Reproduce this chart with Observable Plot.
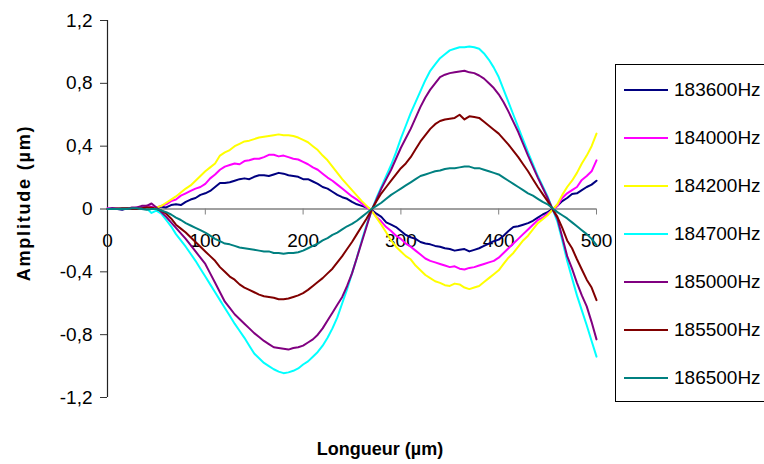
<!DOCTYPE html>
<html>
<head>
<meta charset="utf-8">
<script src="https://cdn.jsdelivr.net/npm/d3@7"></script>
<script src="https://cdn.jsdelivr.net/npm/@observablehq/plot@0.6"></script>
<style>
  html, body { margin: 0; padding: 0; background: #fff; overflow: hidden; }
  #wrap { position: relative; width: 764px; height: 464px; }
  #legend { position: absolute; left: 615px; top: 64px; width: 170px; height: 336px;
    border: 1px solid #000; background: #fff; font-family: "Liberation Sans", Arial, sans-serif; font-size: 19px; }
  .item { position: absolute; left: 8px; height: 24px; display: flex; align-items: center; white-space: nowrap; }
  .sw { width: 44px; height: 2px; margin-right: 6px; }
</style>
</head>
<body>
<div id="wrap"></div>
<script>
// sampling positions along the length (µm), every 5 µm
const positions = d3.range(0, 501, 5);

const seriesNames = ["183600Hz","184000Hz","184200Hz","184700Hz","185000Hz","185500Hz","186500Hz"];
const seriesColors = ["#000080","#FF00FF","#FFFF00","#00FFFF","#800080","#800000","#008080"];

const s183600 = [0.00,0.005,0.00,-0.005,0.005,0.00,0.00,0.01,0.01,0.00,
  0.005,0.015,0.01,0.025,0.03,0.025,0.045,0.06,0.07,0.09,
  0.10,0.115,0.14,0.165,0.165,0.17,0.18,0.19,0.195,0.19,
  0.205,0.215,0.215,0.21,0.22,0.23,0.225,0.215,0.21,0.205,
  0.19,0.19,0.175,0.16,0.14,0.13,0.11,0.09,0.075,0.065,
  0.045,0.03,0.02,0.01,-0.005,-0.03,-0.05,-0.085,-0.10,-0.115,
  -0.14,-0.165,-0.18,-0.19,-0.21,-0.22,-0.225,-0.235,-0.24,-0.25,
  -0.255,-0.265,-0.26,-0.255,-0.27,-0.26,-0.25,-0.235,-0.22,-0.205,
  -0.195,-0.17,-0.14,-0.115,-0.11,-0.10,-0.09,-0.075,-0.055,-0.035,
  -0.02,0.00,0.02,0.05,0.07,0.095,0.10,0.12,0.14,0.155,0.18];
const s184000 = [0.005,0.00,0.00,0.005,0.005,0.00,0.01,0.005,0.02,0.015,
  0.01,0.02,0.03,0.05,0.06,0.085,0.10,0.115,0.13,0.14,
  0.16,0.195,0.22,0.25,0.27,0.28,0.29,0.285,0.305,0.31,
  0.32,0.32,0.33,0.345,0.345,0.335,0.34,0.33,0.32,0.315,
  0.30,0.285,0.265,0.25,0.225,0.20,0.18,0.155,0.13,0.105,
  0.08,0.06,0.035,0.01,-0.01,-0.05,-0.08,-0.115,-0.14,-0.17,
  -0.19,-0.22,-0.24,-0.265,-0.29,-0.315,-0.33,-0.34,-0.35,-0.36,
  -0.37,-0.365,-0.38,-0.385,-0.375,-0.37,-0.36,-0.35,-0.34,-0.33,
  -0.31,-0.28,-0.25,-0.22,-0.19,-0.16,-0.13,-0.10,-0.07,-0.055,
  -0.03,-0.01,0.02,0.07,0.10,0.12,0.14,0.185,0.21,0.24,0.31];
const s184200 = [0.00,0.00,0.005,0.00,0.00,0.005,0.005,0.00,0.01,0.005,
  0.01,0.02,0.04,0.06,0.08,0.105,0.13,0.15,0.18,0.21,
  0.24,0.265,0.29,0.34,0.36,0.375,0.40,0.415,0.43,0.435,
  0.445,0.455,0.46,0.465,0.47,0.475,0.47,0.47,0.465,0.455,
  0.44,0.425,0.40,0.375,0.34,0.31,0.27,0.23,0.19,0.155,
  0.12,0.085,0.05,0.02,-0.01,-0.055,-0.10,-0.15,-0.20,-0.24,
  -0.27,-0.30,-0.32,-0.36,-0.39,-0.42,-0.44,-0.46,-0.47,-0.485,
  -0.49,-0.475,-0.48,-0.50,-0.51,-0.50,-0.49,-0.465,-0.44,-0.415,
  -0.39,-0.35,-0.31,-0.28,-0.24,-0.20,-0.17,-0.13,-0.09,-0.065,
  -0.04,-0.005,0.03,0.09,0.14,0.18,0.23,0.29,0.34,0.40,0.48];
const s184700 = [0.00,0.00,0.00,0.005,0.005,0.00,0.00,0.005,0.005,-0.025,
  -0.01,-0.03,-0.07,-0.11,-0.16,-0.20,-0.24,-0.285,-0.33,-0.38,
  -0.43,-0.48,-0.53,-0.58,-0.63,-0.68,-0.73,-0.775,-0.82,-0.87,
  -0.92,-0.95,-0.98,-1.00,-1.02,-1.035,-1.045,-1.04,-1.03,-1.015,
  -0.99,-0.97,-0.94,-0.91,-0.87,-0.82,-0.76,-0.69,-0.60,-0.51,
  -0.41,-0.31,-0.20,-0.10,-0.01,0.07,0.14,0.21,0.28,0.36,
  0.45,0.53,0.61,0.68,0.75,0.82,0.88,0.92,0.96,0.985,
  1.01,1.02,1.03,1.03,1.035,1.03,1.02,0.99,0.95,0.90,
  0.84,0.76,0.68,0.60,0.52,0.44,0.36,0.285,0.21,0.145,
  0.08,0.00,-0.08,-0.20,-0.33,-0.44,-0.55,-0.645,-0.74,-0.84,-0.94];
const s185000 = [0.00,0.005,0.005,0.00,0.00,0.01,0.01,0.02,0.02,0.035,
  0.01,-0.02,-0.05,-0.085,-0.12,-0.155,-0.19,-0.23,-0.27,-0.31,
  -0.35,-0.41,-0.47,-0.53,-0.59,-0.63,-0.67,-0.70,-0.73,-0.76,
  -0.79,-0.815,-0.84,-0.86,-0.88,-0.885,-0.89,-0.895,-0.885,-0.88,
  -0.87,-0.85,-0.83,-0.80,-0.76,-0.71,-0.66,-0.61,-0.56,-0.49,
  -0.41,-0.31,-0.21,-0.11,-0.01,0.06,0.13,0.19,0.25,0.32,
  0.39,0.45,0.51,0.58,0.65,0.71,0.76,0.80,0.84,0.855,
  0.865,0.87,0.875,0.88,0.87,0.865,0.85,0.83,0.80,0.77,
  0.73,0.68,0.62,0.555,0.49,0.415,0.34,0.27,0.20,0.135,
  0.07,0.00,-0.06,-0.18,-0.30,-0.38,-0.47,-0.55,-0.62,-0.72,-0.83];
const s185500 = [0.00,0.00,0.00,0.005,0.005,0.00,0.00,0.005,0.01,0.01,
  0.00,-0.01,-0.03,-0.06,-0.10,-0.125,-0.15,-0.18,-0.21,-0.24,
  -0.27,-0.30,-0.33,-0.37,-0.40,-0.43,-0.45,-0.48,-0.50,-0.515,
  -0.53,-0.545,-0.555,-0.56,-0.565,-0.575,-0.575,-0.57,-0.56,-0.55,
  -0.535,-0.515,-0.49,-0.465,-0.44,-0.41,-0.38,-0.34,-0.30,-0.255,
  -0.21,-0.16,-0.11,-0.06,-0.005,0.05,0.10,0.14,0.18,0.22,
  0.26,0.29,0.33,0.38,0.43,0.47,0.51,0.54,0.56,0.57,
  0.575,0.58,0.60,0.57,0.59,0.585,0.58,0.555,0.53,0.505,
  0.48,0.445,0.41,0.37,0.33,0.285,0.24,0.19,0.14,0.095,
  0.05,0.00,-0.05,-0.12,-0.20,-0.25,-0.32,-0.385,-0.45,-0.50,-0.58];
const s186500 = [0.00,0.00,0.00,0.00,0.00,0.005,0.005,0.00,-0.005,0.00,
  0.00,-0.01,-0.02,-0.035,-0.055,-0.07,-0.09,-0.105,-0.12,-0.135,
  -0.15,-0.17,-0.19,-0.205,-0.22,-0.225,-0.235,-0.245,-0.25,-0.255,
  -0.26,-0.265,-0.27,-0.27,-0.28,-0.28,-0.285,-0.28,-0.28,-0.275,
  -0.265,-0.25,-0.235,-0.22,-0.20,-0.185,-0.165,-0.15,-0.13,-0.11,
  -0.095,-0.075,-0.05,-0.025,0.00,0.02,0.04,0.065,0.09,0.11,
  0.13,0.15,0.17,0.19,0.21,0.22,0.23,0.24,0.245,0.255,
  0.26,0.26,0.265,0.27,0.27,0.26,0.26,0.25,0.24,0.23,
  0.22,0.20,0.18,0.16,0.14,0.12,0.10,0.085,0.065,0.045,
  0.03,0.005,-0.02,-0.04,-0.06,-0.085,-0.11,-0.135,-0.16,-0.19,-0.23];

const xTicks = [0,100,200,300,400,500];
const yTicks = [-1.2,-0.8,-0.4,0,0.4,0.8,1.2];

const allSeries = [s183600,s184000,s184200,s184700,s185000,s185500,s186500];
const rows = [];
allSeries.forEach((arr, k) => arr.forEach((v, i) => rows.push({x: positions[i], y: v, s: seriesNames[k]})));

const fmt = d => String(d).replace(".", ",");
const font = "'Liberation Sans', Arial, sans-serif";

const chart = Plot.plot({
  width: 764, height: 464,
  marginLeft: 107, marginRight: 168, marginTop: 20, marginBottom: 67,
  style: {fontFamily: font, fontSize: "19px", background: "white", color: "black"},
  x: {domain: [0, 500]},
  y: {domain: [-1.2, 1.2]},
  color: {domain: seriesNames, range: seriesColors},
  marks: [
    Plot.ruleY([0], {stroke: "#808080", strokeWidth: 1.5}),
    Plot.axisX(xTicks, {y: 0, anchor: "bottom", tickSize: 6, tickPadding: 18, stroke: "#808080", tickFormat: d => String(d), label: null, fill: "black"}),
    Plot.axisY(yTicks, {anchor: "left", tickSize: 7, tickPadding: 8, tickFormat: fmt, label: null, stroke: "#333"}),
    Plot.ruleX([0], {stroke: "#222", strokeWidth: 1.2}),
    Plot.line(rows, {x: "x", y: "y", z: "s", stroke: "s", strokeWidth: 2}),
    Plot.text(["Amplitude (µm)"], {frameAnchor: "left", textAnchor: "middle", lineAnchor: "middle", rotate: -90, dx: -83, dy: -6, fontWeight: "bold", fontSize: 18}),
    Plot.text(["Longueur (µm)"], {frameAnchor: "bottom", textAnchor: "middle", dx: 28, dy: 57, fontWeight: "bold", fontSize: 18})
  ]
});
d3.select(chart).selectAll("text")
  .filter(function() { return this.textContent === "Amplitude (µm)"; })
  .attr("letter-spacing", "1.8px");

const wrap = document.getElementById("wrap");
wrap.appendChild(chart);

const legend = document.createElement("div");
legend.id = "legend";
seriesNames.forEach((name, k) => {
  const it = document.createElement("div");
  it.className = "item";
  it.style.top = (13 + k * 48) + "px";
  const sw = document.createElement("span");
  sw.className = "sw";
  sw.style.background = seriesColors[k];
  const t = document.createElement("span");
  t.textContent = name;
  it.appendChild(sw); it.appendChild(t);
  legend.appendChild(it);
});
wrap.appendChild(legend);
</script>
</body>
</html>
